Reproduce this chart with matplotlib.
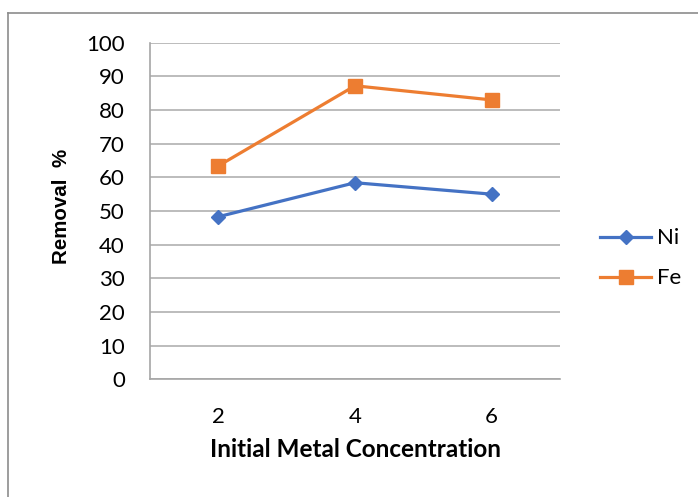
import matplotlib.pyplot as plt
from matplotlib.lines import Line2D

concentration = ['2', '4', '6']
ni_removal = [48.3, 58.4, 55.0]
fe_removal = [63.4, 87.2, 83.0]
y_ticks = list(range(0, 101, 10))

fig = plt.figure(figsize=(6.98, 4.97), dpi=100)
ax = fig.add_axes([150 / 698, 1 - 379.3 / 497, 410 / 698, 336.6 / 497])

x = range(1, len(concentration) + 1)
ax.plot(x, ni_removal, '-D', color='#4472C4', lw=2.3, ms=7, label='Ni')
ax.plot(x, fe_removal, '-s', color='#ED7D31', lw=2.3, ms=10, label='Fe')

ax.set_xlim(0.5, 3.5)
ax.set_ylim(0, 100)
ax.set_xticks(list(x))
ax.set_xticklabels(concentration)
ax.set_yticks(y_ticks)
ax.tick_params(length=0, labelsize=16)
ax.tick_params(axis='x', pad=20)
ax.tick_params(axis='y', pad=18)
for lab in ax.get_xticklabels() + ax.get_yticklabels():
    lab.set_family('Lato')
ax.grid(axis='y', color='#b0b0b0', lw=1.2)
ax.set_axisbelow(True)
for side in ['top', 'right']:
    ax.spines[side].set_visible(False)
for side in ['left', 'bottom']:
    ax.spines[side].set_color('#a6a6a6')
    ax.spines[side].set_linewidth(1.2)

ax.set_xlabel('Initial Metal Concentration', family='Lato', weight='bold',
              fontsize=17.5, labelpad=8)
ax.set_ylabel('Removal  %', family='Liberation Sans', weight='bold',
              fontsize=14.8)
ax.yaxis.set_label_coords(-0.192, 0.515)

leg = ax.legend(loc='center left', bbox_to_anchor=(1.0976, 0.359), frameon=False,
                prop={'family': 'Lato', 'size': 16}, handlelength=2.3,
                labelspacing=0.9, handletextpad=0.25, borderpad=0,
                borderaxespad=0)

# outer chart border
fig.add_artist(Line2D([8 / 698, 1], [1 - 13 / 497] * 2, color='#8c8c8c', lw=1.2))
fig.add_artist(Line2D([8 / 698] * 2, [0, 1 - 13 / 497], color='#8c8c8c', lw=1.2))

fig.savefig('out.png', dpi=100)
